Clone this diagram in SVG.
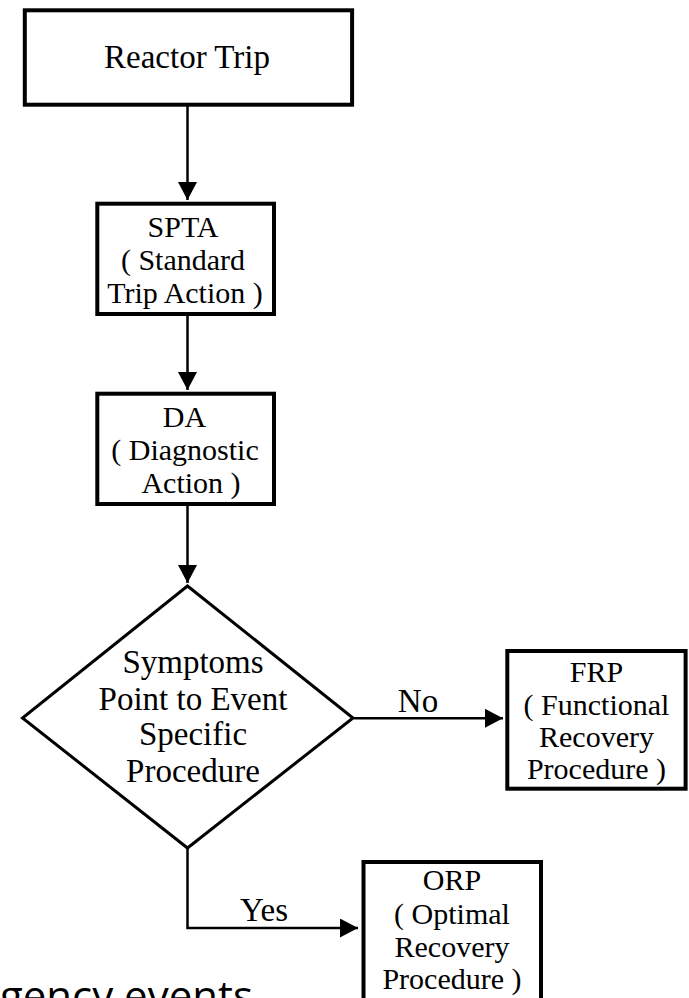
<svg xmlns="http://www.w3.org/2000/svg" width="689" height="998" viewBox="0 0 689 998">
<style>
.box{fill:#fff;stroke:#000;stroke-width:4}
.dia{fill:#fff;stroke:#000;stroke-width:3}
.con{fill:none;stroke:#000;stroke-width:2.5}
.t{font-family:"Liberation Serif","Times New Roman",serif;font-size:30px;fill:#000;text-anchor:middle}
.big{font-size:33px}
.cap{font-family:"Open Sans","Liberation Sans",sans-serif;font-size:42px;fill:#000;text-anchor:end}
</style>
<defs>
<marker id="ah" markerUnits="userSpaceOnUse" markerWidth="18" markerHeight="19" refX="18" refY="9.5" orient="auto">
<path d="M0,0 L18,9.5 L0,19 Z" fill="#000"/>
</marker>
</defs>
<rect width="689" height="998" fill="#fff"/>
<g id="connectors">
<line class="con" x1="187.5" y1="106" x2="187.5" y2="200" marker-end="url(#ah)"/>
<line class="con" x1="187.5" y1="316" x2="187.5" y2="390" marker-end="url(#ah)"/>
<line class="con" x1="187.5" y1="506" x2="187.5" y2="583" marker-end="url(#ah)"/>
<line class="con" x1="354" y1="718.3" x2="503" y2="718.3" marker-end="url(#ah)"/>
<path class="con" d="M187.5,849 V928 H358" marker-end="url(#ah)"/>
<text class="t big" x="418" y="711.7">No</text>
<text class="t big" x="264" y="920.7">Yes</text>
</g>
<g id="reactor-trip">
<rect class="box" x="24.8" y="10.3" width="327.3" height="94.4"/>
<text class="t big" x="187" y="67.7">Reactor Trip</text>
</g>
<g id="spta">
<rect class="box" x="97.3" y="203.7" width="176.7" height="110.3"/>
<text class="t" x="183" y="237.3">SPTA</text>
<text class="t" x="183" y="270">( Standard</text>
<text class="t" x="185" y="302.7">Trip Action )</text>
</g>
<g id="da">
<rect class="box" x="97.3" y="393.7" width="176.7" height="110.3"/>
<text class="t" x="184.5" y="427.3">DA</text>
<text class="t" x="185" y="460">( Diagnostic</text>
<text class="t" x="191" y="492.7">Action )</text>
</g>
<g id="decision">
<polygon class="dia" points="187.5,586 353,718 187.5,848 22.5,718"/>
<text class="t big" x="193" y="673.3">Symptoms</text>
<text class="t big" x="193" y="710">Point to Event</text>
<text class="t big" x="193" y="745">Specific</text>
<text class="t big" x="193" y="781.7">Procedure</text>
</g>
<g id="frp">
<rect class="box" x="507.3" y="651" width="178.3" height="137.7"/>
<text class="t" x="596.5" y="681.7">FRP</text>
<text class="t" x="596.5" y="715">( Functional</text>
<text class="t" x="596.5" y="747.3">Recovery</text>
<text class="t" x="596.5" y="779">Procedure )</text>
</g>
<g id="orp">
<rect class="box" x="363.5" y="862" width="177.5" height="150"/>
<text class="t" x="452" y="889.5">ORP</text>
<text class="t" x="452" y="923.5">( Optimal</text>
<text class="t" x="452" y="956.5">Recovery</text>
<text class="t" x="452" y="989">Procedure )</text>
</g>
<text class="cap" x="253" y="1011">gency events</text>
</svg>
